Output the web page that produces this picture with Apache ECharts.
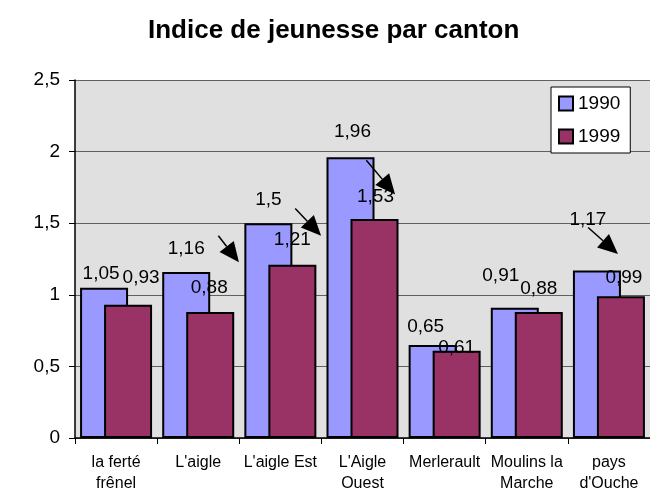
<!DOCTYPE html>
<html>
<head>
<meta charset="utf-8">
<script src="https://cdn.jsdelivr.net/npm/echarts@6/dist/echarts.min.js"></script>
<style>
  html, body { margin: 0; padding: 0; background: #fff; }
  #chart { width: 650px; height: 494px; }
</style>
</head>
<body>
<div id="chart"></div>
<script>
// données
const categories = ["la ferté\nfrênel", "L'aigle", "L'aigle Est", "L'Aigle\nOuest", "Merlerault", "Moulins la\nMarche", "pays\nd'Ouche"];
const years = ["1990", "1999"];
const values1990 = [1.05, 1.16, 1.5, 1.96, 0.65, 0.91, 1.17];
const values1999 = [0.93, 0.88, 1.21, 1.53, 0.61, 0.88, 0.99];
const yMin = 0, yMax = 2.5, yStep = 0.5;

// étiquettes déplacées à la main dans l'original : [dx, hauteur au-dessus de la barre]
const shift1990 = [[-3, 14], [0, 24], [0, 24], [2, 26], [-7, 19], [-14, 32], [-9, 51]];
const shift1999 = [[13, 28], [-1, 25], [0, 25], [1, 23], [0, 3], [0, 24], [3, 19]];

// flèches : catégorie, décalage x en fraction de catégorie, valeur y
const arrows = [
  { cat: 1, from: [0.245, 1.412], to: [0.496, 1.227] },
  { cat: 2, from: [0.181, 1.602], to: [0.496, 1.412] },
  { cat: 3, from: [0.046, 1.940], to: [0.397, 1.701] },
  { cat: 6, from: [-0.253, 1.470], to: [0.110, 1.285] },
];

const FONT = "'Liberation Sans', Arial, sans-serif";
const fmt = v => String(v).replace(".", ",");

const withLabels = (values, shifts) =>
  values.map((v, i) => ({
    value: v,
    label: { offset: [shifts[i][0], -(shifts[i][1] - 10)] },
  }));

const barLabel = {
  show: true,
  position: "top",
  distance: 0,
  color: "#000",
  fontSize: 19,
  fontFamily: FONT,
  formatter: p => fmt(p.value),
};

const chart = echarts.init(document.getElementById("chart"));

const option = {
  animation: false,
  backgroundColor: "#fff",
  textStyle: { fontFamily: FONT, color: "#000" },
  title: {
    text: "Indice de jeunesse par canton",
    left: 148,
    top: 18,
    padding: 0,
    textStyle: { fontSize: 26, fontWeight: "bold", color: "#000", fontFamily: FONT },
  },
  legend: {
    data: years,
    orient: "vertical",
    left: 551,
    top: 87,
    padding: [7, 10, 7, 7],
    itemGap: 14,
    itemWidth: 14,
    itemHeight: 14,
    icon: "rect",
    backgroundColor: "#fff",
    borderColor: "#000",
    borderWidth: 1,
    borderRadius: 0,
    itemStyle: { borderColor: "#000", borderWidth: 2 },
    textStyle: { fontSize: 19, color: "#000", fontFamily: FONT },
  },
  grid: {
    left: 75,
    right: -4,
    top: 80,
    bottom: 54,
    show: true,
    backgroundColor: "#e0e0e0",
    borderWidth: 0,
  },
  xAxis: {
    type: "category",
    data: categories,
    axisLine: { lineStyle: { color: "#000", width: 1.5 } },
    axisTick: { show: true, length: 6, lineStyle: { color: "#000" } },
    axisLabel: {
      color: "#000",
      fontSize: 16,
      lineHeight: 21,
      margin: 14,
      interval: 0,
      fontFamily: FONT,
    },
  },
  yAxis: {
    type: "value",
    min: yMin,
    max: yMax,
    interval: yStep,
    axisLine: { show: true, lineStyle: { color: "#000", width: 1.5 } },
    axisTick: { show: true, length: 6, lineStyle: { color: "#000" } },
    axisLabel: { color: "#000", fontSize: 19, margin: 15, fontFamily: FONT, formatter: v => fmt(v) },
    splitLine: { lineStyle: { color: "#606060", width: 1.2 } },
  },
  series: [
    {
      name: years[0],
      type: "bar",
      data: withLabels(values1990, shift1990),
      barWidth: 48,
      barGap: "-50%",
      itemStyle: { color: "#9999ff", borderColor: "#000", borderWidth: 2 },
      label: barLabel,
    },
    {
      name: years[1],
      type: "bar",
      data: withLabels(values1999, shift1999),
      barWidth: 48,
      barGap: "-50%",
      itemStyle: { color: "#993366", borderColor: "#000", borderWidth: 2 },
      label: barLabel,
    },
  ],
};

chart.setOption(option);

// dessin des flèches à partir des axes
const drawArrows = () => {
  const c0 = chart.convertToPixel({ xAxisIndex: 0 }, categories[0]);
  const c1 = chart.convertToPixel({ xAxisIndex: 0 }, categories[1]);
  const band = c1 - c0;
  const els = [];
  arrows.forEach(a => {
    const cx = chart.convertToPixel({ xAxisIndex: 0 }, categories[a.cat]);
    const x1 = cx + a.from[0] * band;
    const y1 = chart.convertToPixel({ yAxisIndex: 0 }, a.from[1]);
    const x2 = cx + a.to[0] * band;
    const y2 = chart.convertToPixel({ yAxisIndex: 0 }, a.to[1]);
    const len = Math.hypot(x2 - x1, y2 - y1);
    const ux = (x2 - x1) / len, uy = (y2 - y1) / len;
    const headLen = 20, headHalf = 9;
    const bx = x2 - ux * headLen, by = y2 - uy * headLen;
    els.push({
      type: "line",
      shape: { x1: x1, y1: y1, x2: bx, y2: by },
      style: { stroke: "#000", lineWidth: 1.5 },
      z: 100,
    });
    els.push({
      type: "polygon",
      shape: {
        points: [
          [x2, y2],
          [bx - uy * headHalf, by + ux * headHalf],
          [bx + uy * headHalf, by - ux * headHalf],
        ],
      },
      style: { fill: "#000" },
      z: 100,
    });
  });
  chart.setOption({ graphic: els });
};

drawArrows();
</script>
</body>
</html>
